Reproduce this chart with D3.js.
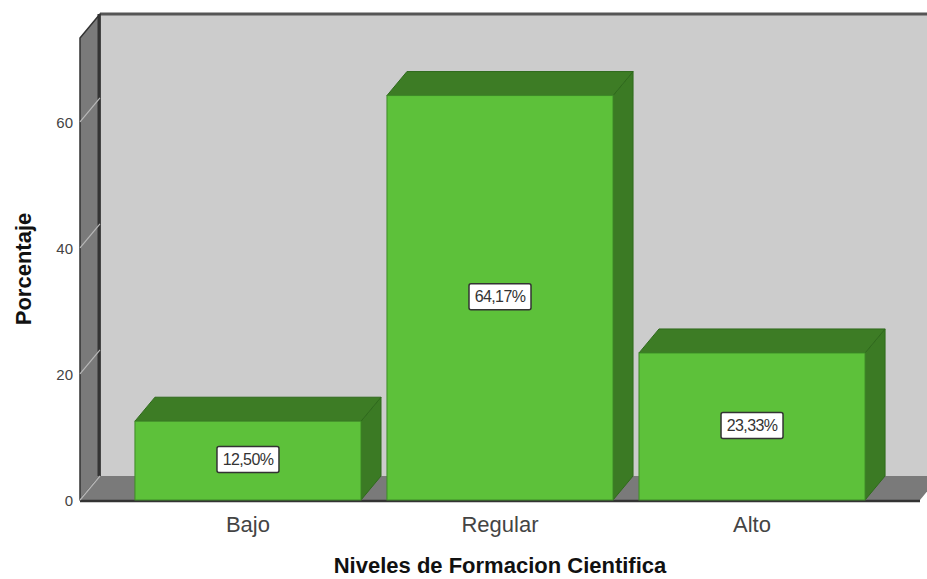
<!DOCTYPE html>
<html>
<head>
<meta charset="utf-8">
<script src="https://cdn.jsdelivr.net/npm/d3@7"></script>
<style>
  html, body { margin: 0; padding: 0; background: #fff; }
  svg { display: block; font-family: Arial, "Liberation Sans", sans-serif; }
</style>
</head>
<body>
<div id="chart"></div>
<script>
// Niveles de Formacion Cientifica – 3D bar chart (SPSS style)

const CATEGORIES = ["Bajo", "Regular", "Alto"];
const VALUES = [12.50, 64.17, 23.33];
const Y_TICKS = [0, 20, 40, 60];
const Y_MAX = 73.3;
const X_TITLE = "Niveles de Formacion Cientifica";
const Y_TITLE = "Porcentaje";

const fmtPct = v => d3.format(".2f")(v).replace(".", ",") + "%";

/* ── Layout ── */
const totalW = 927, totalH = 579;
const left = 80, right = 920;     // front plane x extent
const floorY = 500, topY = 38;    // front plane y extent
const DX = 20, DY = -24;          // depth offset of the 3D box

const svg = d3.select("#chart").append("svg")
  .attr("width", totalW).attr("height", totalH);

/* ── Scales ── */
const x = d3.scaleBand().domain(CATEGORIES)
  .range([left, right]).paddingInner(0.103).paddingOuter(0.218);
const y = d3.scaleLinear().domain([0, Y_MAX]).range([floorY, topY]);

const pts = a => a.map(p => p.join(",")).join(" ");

/* ── Back wall ── */
svg.append("polygon")
  .attr("points", pts([[left + DX, topY + DY], [totalW + 30, topY + DY], [totalW + 30, floorY + DY], [left + DX, floorY + DY]]))
  .attr("fill", "#cccccc");
svg.append("line")
  .attr("x1", left + DX).attr("x2", totalW + 30)
  .attr("y1", topY + DY).attr("y2", topY + DY)
  .attr("stroke", "#555").attr("stroke-width", 3);

/* ── Left wall ── */
svg.append("polygon")
  .attr("points", pts([[left, floorY], [left, topY], [left + DX, topY + DY], [left + DX, floorY + DY]]))
  .attr("fill", "#7a7a7a")
  .attr("stroke", "#333").attr("stroke-width", 1.5).attr("stroke-linejoin", "round");
svg.append("line")
  .attr("x1", left + DX - 1).attr("x2", left + DX - 1)
  .attr("y1", topY + DY).attr("y2", floorY + DY)
  .attr("stroke", "#333").attr("stroke-width", 3);

/* ── Floor ── */
svg.append("polygon")
  .attr("points", pts([[left, floorY], [right, floorY], [right + DX, floorY + DY], [left + DX, floorY + DY]]))
  .attr("fill", "#7a7a7a");
svg.append("line")
  .attr("x1", left).attr("x2", right)
  .attr("y1", floorY + 1).attr("y2", floorY + 1)
  .attr("stroke", "#333").attr("stroke-width", 2.5);

/* ── Y ticks (diagonal on the left wall) ── */
const ticks = svg.append("g");
ticks.selectAll("line").data(Y_TICKS).join("line")
  .attr("x1", left).attr("y1", d => y(d))
  .attr("x2", left + DX).attr("y2", d => y(d) + DY)
  .attr("stroke", "#b8b8b8").attr("stroke-width", 1.2);
ticks.selectAll("text").data(Y_TICKS).join("text")
  .attr("x", left - 7).attr("y", d => y(d) + 2)
  .attr("text-anchor", "end").attr("dominant-baseline", "middle")
  .attr("font-size", 15).attr("fill", "#444")
  .text(d => d);

/* ── Bars ── */
const bars = svg.append("g").selectAll("g")
  .data(CATEGORIES.map((c, i) => ({ cat: c, value: VALUES[i] })))
  .join("g");

bars.append("polygon")   // side
  .attr("points", d => {
    const x1 = x(d.cat) + x.bandwidth(), y0 = y(0), y1 = y(d.value);
    return pts([[x1, y0], [x1, y1], [x1 + DX, y1 + DY], [x1 + DX, y0 + DY]]);
  })
  .attr("fill", "#3b7a24").attr("stroke", "#2f6a1c").attr("stroke-width", 1);

bars.append("polygon")   // top
  .attr("points", d => {
    const x0 = x(d.cat), x1 = x0 + x.bandwidth(), y1 = y(d.value);
    return pts([[x0, y1], [x0 + DX, y1 + DY], [x1 + DX, y1 + DY], [x1, y1]]);
  })
  .attr("fill", "#3d7c25").attr("stroke", "#2f6a1c").attr("stroke-width", 1);

bars.append("rect")      // front
  .attr("x", d => x(d.cat)).attr("y", d => y(d.value))
  .attr("width", x.bandwidth()).attr("height", d => y(0) - y(d.value))
  .attr("fill", "#5dc13a").attr("stroke", "#3f8a28").attr("stroke-width", 1);

/* ── Value labels ── */
const lab = bars.append("g")
  .attr("transform", d => `translate(${x(d.cat) + x.bandwidth() / 2},${(y(0) + y(d.value)) / 2 - 1})`);
lab.append("rect")
  .attr("x", -31).attr("y", -13).attr("width", 62).attr("height", 26)
  .attr("rx", 2)
  .attr("fill", "#fff").attr("stroke", "#333").attr("stroke-width", 1.5);
lab.append("text")
  .attr("text-anchor", "middle").attr("dominant-baseline", "central")
  .attr("font-size", 16).attr("fill", "#333").attr("letter-spacing", -0.6)
  .text(d => fmtPct(d.value));

/* ── X category labels ── */
svg.append("g").selectAll("text").data(CATEGORIES).join("text")
  .attr("x", d => x(d) + x.bandwidth() / 2).attr("y", 532)
  .attr("text-anchor", "middle")
  .attr("font-size", 22).attr("fill", "#444")
  .text(d => d);

/* ── Axis titles ── */
svg.append("text")
  .attr("x", 500).attr("y", 573)
  .attr("text-anchor", "middle")
  .attr("font-size", 22).attr("font-weight", "bold").attr("fill", "#111")
  .text(X_TITLE);

svg.append("text")
  .attr("transform", "rotate(-90)")
  .attr("x", -269).attr("y", 31)
  .attr("text-anchor", "middle")
  .attr("font-size", 22).attr("font-weight", "bold").attr("fill", "#111")
  .text(Y_TITLE);
</script>
</body>
</html>
